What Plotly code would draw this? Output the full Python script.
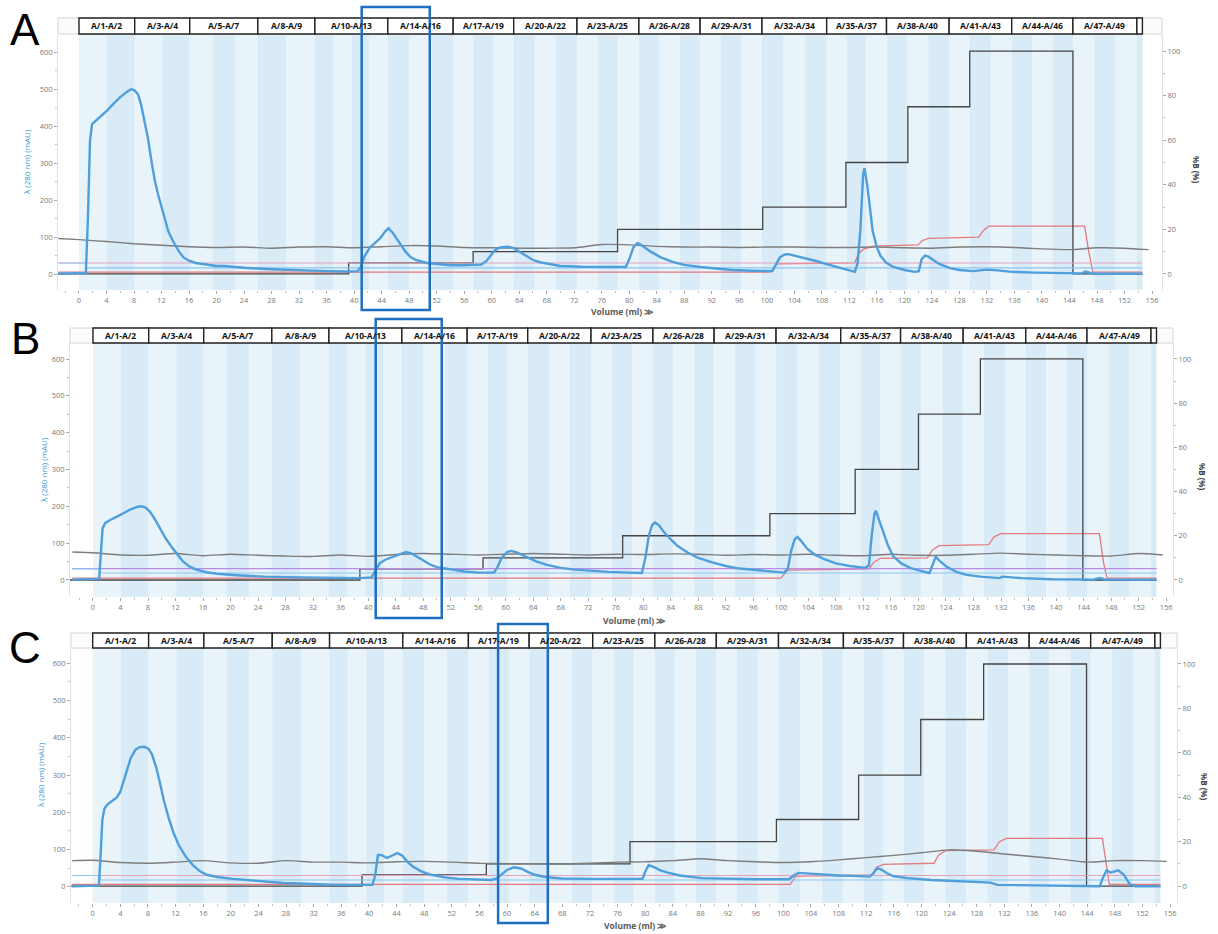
import plotly.graph_objects as go

W, H = 1218, 934

# ---------------- data ----------------
fraction_labels = ["A/1-A/2", "A/3-A/4", "A/5-A/7", "A/8-A/9", "A/10-A/13", "A/14-A/16",
                   "A/17-A/19", "A/20-A/22", "A/23-A/25", "A/26-A/28", "A/29-A/31", "A/32-A/34",
                   "A/35-A/37", "A/38-A/40", "A/41-A/43", "A/44-A/46", "A/47-A/49", ""]
fraction_edges = [0, 8.1, 16.1, 26.0, 34.3, 44.9, 54.4, 63.2, 72.4, 81.4, 90.3, 99.3,
                  108.7, 117.4, 126.5, 135.6, 144.5, 153.8, 154.6]

# UV 280 nm (mAU)
uv_A_x = [-3.0, 0.5, 1.0, 1.3, 1.6, 1.9, 2.5, 3.2, 4.0, 5.0, 6.0, 7.0, 7.6, 8.1, 8.6, 9.0, 9.5, 10.0, 10.5, 11.0,
          11.5, 12.0, 12.5, 13.0, 13.7, 14.5, 15.2, 16.0, 17.0, 18.5, 20.0, 21.0, 22.0, 24.0, 28.0, 32.0, 36.0,
          39.0, 40.5, 41.0, 41.5, 42.3, 43.0, 43.8, 44.5, 45.0, 45.6, 46.2, 46.8, 47.5, 48.2, 49.0, 50.6, 52.0,
          54.0, 56.0, 58.5, 59.2, 59.8, 60.5, 61.2, 62.3, 63.2, 64.1, 65.0, 66.0, 67.0, 68.5, 70.0, 73.0, 76.0,
          79.5, 80.0, 80.6, 81.2, 81.8, 83.0, 84.5, 86.3, 88.0, 90.3, 93.0, 95.0, 98.0, 100.8, 101.3, 101.9,
          102.6, 103.2, 104.0, 105.0, 107.0, 109.6, 111.5, 112.8, 113.2, 113.6, 114.0, 114.2, 114.6, 115.0,
          115.4, 116.0, 116.5, 117.3, 118.3, 120.0, 121.5, 122.1, 122.5, 123.0, 123.5, 124.2, 125.0, 126.6,
          128.0, 130.0, 131.0, 132.0, 133.5, 135.6, 139.0, 143.0, 144.5, 145.8, 146.3, 146.8, 147.5, 150.0, 154.6]
uv_A_y = [1, 1, 3, 150, 360, 405, 415, 425, 440, 460, 478, 493, 500, 496, 485, 460, 415, 370, 310, 255,
          215, 180, 145, 115, 88, 62, 45, 36, 30, 26, 22, 22, 20, 17, 13, 10, 8,
          7, 8, 20, 48, 72, 85, 97, 115, 124, 112, 95, 78, 60, 46, 38, 30, 27,
          24, 24, 26, 35, 50, 65, 72, 74, 70, 60, 48, 38, 32, 26, 22, 20, 19,
          19, 40, 72, 84, 78, 62, 46, 33, 25, 19, 14, 11, 9, 8, 25, 45,
          53, 54, 50, 46, 36, 22, 12, 6, 30, 120, 270, 286, 240, 170,
          115, 72, 50, 32, 20, 11, 6, 8, 40, 50, 47, 38, 28, 16,
          11, 8, 10, 12, 10, 6, 4, 3, 1, 2, 7, 5, 1, 1, 1]

uv_B_x = [-3.0, 0.5, 0.9, 1.1, 1.4, 1.8, 2.5, 3.5, 4.5, 5.5, 6.5, 7.0, 7.6, 8.3, 9.0, 9.8, 10.6, 11.5, 12.2,
          13.0, 14.0, 15.0, 16.5, 18.0, 21.0, 25.0, 30.0, 35.0, 38.8, 40.5, 41.0, 41.7, 42.5, 43.5, 44.5,
          45.5, 46.3, 47.0, 48.0, 49.0, 50.0, 52.0, 54.0, 56.0, 58.3, 58.8, 59.4, 60.2, 60.8, 61.6, 63.0,
          64.5, 66.0, 68.0, 70.0, 72.0, 75.0, 78.0, 79.8, 80.3, 80.8, 81.3, 81.7, 82.3, 83.0, 84.0, 85.0,
          86.5, 88.0, 90.0, 92.0, 94.0, 96.0, 98.0, 100.5, 101.0, 101.5, 102.0, 102.4, 103.0, 103.8, 105.0,
          106.5, 108.0, 110.0, 112.3, 112.8, 113.2, 113.6, 113.8, 114.3, 114.9, 115.6, 116.3, 117.5, 118.8,
          120.0, 121.6, 122.0, 122.5, 123.2, 124.1, 125.5, 127.0, 129.0, 131.0, 131.8, 132.2, 133.0, 135.0,
          139.4, 144.0, 145.5, 146.0, 146.5, 147.2, 154.6]
uv_B_y = [1, 1, 3, 60, 140, 155, 163, 172, 182, 192, 199, 200, 197, 185, 165, 140, 112, 88, 70,
          52, 37, 28, 21, 17, 13, 9, 7, 5, 5, 7, 25, 46, 55, 62, 70,
          76, 72, 64, 52, 42, 35, 28, 23, 20, 20, 35, 60, 76, 79, 75, 62,
          50, 41, 33, 28, 25, 22, 20, 19, 60, 120, 150, 156, 148, 130, 110, 92,
          74, 60, 48, 38, 31, 27, 23, 20, 30, 80, 110, 117, 105, 85, 68,
          55, 45, 38, 33, 40, 120, 180, 188, 160, 128, 92, 65, 45, 33,
          26, 19, 40, 63, 50, 36, 22, 14, 9, 6, 5, 9, 8, 5,
          2, 1, 1, 4, 5, 1, 1]

uv_C_x = [-3.0, 0.5, 0.9, 1.1, 1.4, 1.7, 2.2, 2.8, 3.5, 4.0, 4.5, 5.0, 5.5, 6.2, 6.8, 7.5, 8.1, 8.6, 9.2, 9.7,
          10.3, 11.0, 11.7, 12.5, 13.5, 14.5, 15.5, 16.5, 18.0, 20.3, 24.0, 27.6, 31.0, 35.0, 40.5, 40.9,
          41.3, 41.8, 42.6, 43.4, 44.1, 44.8, 45.5, 46.3, 47.5, 49.0, 51.0, 53.0, 56.0, 57.7, 58.5, 59.2,
          60.0, 61.0, 62.0, 63.0, 64.0, 65.5, 67.9, 72.0, 76.0, 79.6, 80.0, 80.5, 81.2, 82.2, 83.4, 85.0,
          88.2, 92.0, 96.0, 100.8, 101.5, 102.2, 103.5, 105.0, 108.0, 110.0, 112.5, 113.0, 113.6, 114.2,
          115.0, 116.0, 118.0, 121.4, 124.0, 128.0, 130.0, 131.0, 135.0, 140.0, 143.5, 144.0, 145.8, 146.3,
          146.8, 147.4, 148.0, 148.5, 149.3, 150.2, 151.0, 154.6]
uv_C_y = [1, 1, 3, 70, 180, 210, 222, 230, 240, 255, 285, 318, 345, 368, 375, 376, 370, 355, 320, 282,
          232, 185, 145, 110, 80, 58, 42, 32, 26, 21, 15, 10, 8, 5, 5, 30,
          85, 85, 77, 84, 90, 84, 68, 55, 42, 32, 25, 21, 18, 18, 22, 32,
          45, 52, 49, 40, 32, 26, 22, 21, 21, 21, 40, 58, 53, 44, 37, 30,
          23, 21, 20, 20, 30, 37, 35, 33, 30, 29, 27, 35, 50, 46,
          36, 28, 23, 18, 16, 13, 11, 5, 4, 3, 2, 1, 1, 25,
          44, 38, 42, 44, 32, 6, 1, 1]

# second (grey) detector trace, mAU scale
grey_x = [-3, 0, 4, 8, 12, 16, 20, 24, 28, 32, 36, 40, 44, 48, 52, 56, 60, 64, 68, 72, 76, 80,
          84, 88, 92, 96, 100, 104, 108, 112, 116, 120, 124, 128, 132, 136, 140, 144, 148, 152, 155.5]
grey_A = [96, 93, 88, 82, 78, 74, 72, 73, 70, 73, 74, 71, 74, 77, 76, 72, 71, 70, 70, 71, 80, 79,
          75, 73, 73, 72, 73, 73, 72, 72, 73, 71, 70, 73, 74, 72, 68, 66, 71, 70, 66]
grey_B = [76, 74, 68, 67, 72, 66, 70, 67, 65, 64, 68, 64, 69, 72, 70, 68, 70, 72, 70, 68, 70, 69,
          71, 70, 67, 69, 68, 70, 67, 66, 70, 67, 67, 70, 73, 70, 68, 66, 65, 72, 68]
grey_C = [70, 71, 65, 63, 66, 70, 64, 63, 70, 66, 66, 64, 67, 68, 66, 63, 62, 62, 61, 63, 66, 67,
          70, 75, 70, 67, 65, 67, 72, 78, 84, 91, 99, 95, 88, 81, 74, 66, 70, 70, 68]

# %B step gradient
step_A_x = [-3.05, 39.2, 57.3, 78.3, 99.4, 111.5, 120.5, 129.5, 144.5, 154.6]
step_B_x = [-3.34, 38.8, 56.7, 77.0, 98.4, 110.8, 120.0, 129.0, 143.9, 154.6]
step_C_x = [-3.14, 39.0, 57.0, 77.8, 99.0, 110.9, 119.9, 129.0, 143.9, 154.6]
step_y = [0, 5, 10, 20, 30, 50, 75, 100, 0, 0]

# red trace (% scale)
red_A_x = [-3.0, 100.5, 101.5, 112.8, 113.3, 114.0, 115.5, 122.0, 122.6, 123.5, 130.8, 131.5, 132.3, 146.2, 146.8, 147.4, 154.6]
red_A_y = [0.8, 0.8, 4.5, 5.0, 9.0, 11.0, 12.5, 13.0, 15.0, 16.0, 16.5, 19.5, 21.5, 21.5, 10.0, 0.8, 0.8]
red_B_x = [-3.0, 100.0, 101.0, 112.8, 113.5, 114.5, 121.3, 122.0, 123.0, 130.2, 131.0, 132.0, 146.3, 146.9, 147.4, 154.6]
red_B_y = [0.8, 0.8, 4.5, 5.0, 8.0, 9.8, 10.0, 13.5, 15.5, 16.0, 19.5, 21.0, 21.0, 8.0, 0.8, 0.8]
red_C_x = [-3.0, 101.0, 101.8, 112.8, 113.5, 114.5, 121.8, 122.5, 123.5, 130.5, 131.3, 132.3, 146.2, 146.8, 147.2, 154.6]
red_C_y = [0.8, 0.8, 4.5, 5.0, 8.5, 9.8, 10.3, 14.0, 16.0, 16.3, 20.0, 21.5, 21.5, 10.0, 0.8, 0.8]

# flat auxiliary traces (mAU scale)
flat_x = [-3.0, 1.0, 154.6]
pink_A = [30, 30, 30]
pink_B = [31, 31, 31]
pink_C = [30, 30, 30]
lblue_A = [30, 17, 17]
lblue_B = [30, 19, 19]
lblue_C = [30, 18, 18]

# highlighted volume windows (ml)
highlight_A = [41.1, 51.0]
highlight_B = [41.1, 50.7]
highlight_C = [58.7, 65.9]

# ---------------- layout helpers ----------------
def PX(p):
    return p / W


def PY(p):
    return 1 - p / H


panels = [
    dict(letter="A", uv=(uv_A_x, uv_A_y), grey=grey_A, step_x=step_A_x, red=(red_A_x, red_A_y),
         pink=pink_A, lblue=lblue_A, pink_col="#e3a3bd", hl=highlight_A,
         xdom=(58, 1162), ydom=(35, 290), xr=(-3.05, 157.45), uvr=(-43, 646), pr=(-7.2, 107.2),
         hdr=(18, 34), vol=(622, 311), let=(25, 29), hly=(7, 310), ltitle=(27, 162), rtitle=(1197, 170)),
    dict(letter="B", uv=(uv_B_x, uv_B_y), grey=grey_B, step_x=step_B_x, red=(red_B_x, red_B_y),
         pink=pink_B, lblue=lblue_B, pink_col="#b98be6", hl=highlight_B,
         xdom=(70, 1173), ydom=(343, 597), xr=(-3.34, 157.0), uvr=(-46.2, 643.5), pr=(-7.7, 107.2),
         hdr=(328, 343), vol=(634, 620), let=(25, 338), hly=(319, 618), ltitle=(43, 470), rtitle=(1203, 477)),
    dict(letter="C", uv=(uv_C_x, uv_C_y), grey=grey_C, step_x=step_C_x, red=(red_C_x, red_C_y),
         pink=pink_C, lblue=lblue_C, pink_col="#e3a3bd", hl=highlight_C,
         xdom=(71, 1177), ydom=(648, 903), xr=(-3.14, 157.0), uvr=(-43.8, 641.1), pr=(-7.6, 107.2),
         hdr=(633, 648), vol=(635, 925), let=(25, 647), hly=(624, 923), ltitle=(40, 775), rtitle=(1205, 787)),
]

for name, xs, ys in [("A", uv_A_x, uv_A_y), ("B", uv_B_x, uv_B_y), ("C", uv_C_x, uv_C_y)]:
    if len(xs) != len(ys):
        raise ValueError(f"uv {name} length mismatch {len(xs)} {len(ys)}")


def frac_count(lbl):
    if not lbl:
        return 1
    a, b = lbl.split("-")
    return int(b.split("/")[1]) - int(a.split("/")[1]) + 1


fig = go.Figure()
shapes = []
annotations = []
layout_axes = {}

tickfont = dict(size=7.5, color="#7a7a7a", family="Open Sans")

for i, p in enumerate(panels):
    k = i + 1
    xname = "x" if k == 1 else f"x{k}"
    yp_idx = 2 * i + 1
    yu_idx = 2 * i + 2
    yp = "y" if yp_idx == 1 else f"y{yp_idx}"
    yu = f"y{yu_idx}"
    xkey = "xaxis" if k == 1 else f"xaxis{k}"
    ypkey = "yaxis" if yp_idx == 1 else f"yaxis{yp_idx}"
    yukey = f"yaxis{yu_idx}"

    # traces on % axis (drawn first -> underneath)
    fig.add_trace(go.Scatter(x=p["red"][0], y=p["red"][1], xaxis=xname, yaxis=yp, mode="lines",
                             line=dict(color="#e47a7e", width=1.3), showlegend=False, hoverinfo="skip"))
    fig.add_trace(go.Scatter(x=p["step_x"], y=step_y, xaxis=xname, yaxis=yp, mode="lines",
                             line=dict(color="#454545", width=1.3, shape="hv"), showlegend=False, hoverinfo="skip"))
    # traces on mAU axis
    fig.add_trace(go.Scatter(x=flat_x, y=p["pink"], xaxis=xname, yaxis=yu, mode="lines",
                             line=dict(color=p["pink_col"], width=1.2), showlegend=False, hoverinfo="skip"))
    fig.add_trace(go.Scatter(x=flat_x, y=p["lblue"], xaxis=xname, yaxis=yu, mode="lines",
                             line=dict(color="#8cc8ef", width=1.2, shape="hv"), showlegend=False, hoverinfo="skip"))
    fig.add_trace(go.Scatter(x=grey_x, y=p["grey"], xaxis=xname, yaxis=yu, mode="lines",
                             line=dict(color="#7d7d7d", width=1.4, shape="spline", smoothing=0.6),
                             showlegend=False, hoverinfo="skip"))
    fig.add_trace(go.Scatter(x=p["uv"][0], y=p["uv"][1], xaxis=xname, yaxis=yu, mode="lines",
                             line=dict(color="#4f9fdd", width=2.4), showlegend=False, hoverinfo="skip"))

    xd = [PX(p["xdom"][0]), PX(p["xdom"][1])]
    yd = [PY(p["ydom"][1]), PY(p["ydom"][0])]

    layout_axes[xkey] = dict(domain=xd, range=list(p["xr"]), anchor=yp, showgrid=False, zeroline=False,
                             showline=False, ticks="outside", ticklen=3, tickcolor="#aaaaaa",
                             tick0=0, dtick=4, tickfont=tickfont,
                             minor=dict(dtick=2, tick0=0, ticks="outside", ticklen=2, tickcolor="#c0c0c0"))
    layout_axes[ypkey] = dict(domain=yd, range=list(p["pr"]), anchor=xname, side="right", showgrid=False,
                              zeroline=False, showline=True, linecolor="#e2e2e2", ticks="outside", ticklen=3,
                              tickcolor="#aaaaaa", tick0=0, dtick=20, tickfont=tickfont,
                              minor=dict(dtick=10, tick0=0, ticks="outside", ticklen=2, tickcolor="#c0c0c0"))
    layout_axes[yukey] = dict(range=list(p["uvr"]), anchor=xname, overlaying=yp, side="left", showgrid=False,
                              zeroline=False, showline=True, linecolor="#e2e2e2", ticks="outside", ticklen=3,
                              tickcolor="#aaaaaa", tick0=0, dtick=100, tickfont=tickfont,
                              minor=dict(dtick=50, tick0=0, ticks="outside", ticklen=2, tickcolor="#c0c0c0"))

    # fraction stripes
    fi = 0
    for g, lbl in enumerate(fraction_labels):
        n = frac_count(lbl)
        x0, x1 = fraction_edges[g], fraction_edges[g + 1]
        wdt = (x1 - x0) / n
        for j in range(n):
            col = "#e8f3fa" if fi % 2 == 0 else "#d9ebf6"
            shapes.append(dict(type="rect", xref=xname, yref="paper", x0=x0 + j * wdt, x1=x0 + (j + 1) * wdt,
                               y0=yd[0], y1=yd[1], fillcolor=col, line=dict(width=0), layer="below"))
            fi += 1

    # header band
    hy0, hy1 = PY(p["hdr"][1]), PY(p["hdr"][0])
    shapes.append(dict(type="rect", xref="paper", yref="paper", x0=xd[0], x1=xd[1], y0=hy0, y1=hy1,
                       fillcolor="#fbfbfb", line=dict(color="#d4d4d4", width=1), layer="above"))
    for g, lbl in enumerate(fraction_labels):
        x0, x1 = fraction_edges[g], fraction_edges[g + 1]
        shapes.append(dict(type="rect", xref=xname, yref="paper", x0=x0, x1=x1, y0=hy0, y1=hy1,
                           fillcolor="white", line=dict(color="#222222", width=1.4), layer="above"))
        if lbl:
            annotations.append(dict(x=(x0 + x1) / 2, y=(hy0 + hy1) / 2, xref=xname, yref="paper",
                                    text=f"<b>{lbl}</b>", showarrow=False, xanchor="center", yanchor="middle",
                                    font=dict(size=8.5, color="#111111", family="Open Sans")))

    # highlight rectangle
    shapes.append(dict(type="rect", xref=xname, yref="paper", x0=p["hl"][0], x1=p["hl"][1],
                       y0=PY(p["hly"][1]), y1=PY(p["hly"][0]), fillcolor="rgba(0,0,0,0)",
                       line=dict(color="#1f6fc1", width=2.5), layer="above"))

    # texts
    annotations.append(dict(x=PX(p["let"][0]), y=PY(p["let"][1]), xref="paper", yref="paper",
                            text=p["letter"], showarrow=False, xanchor="center", yanchor="middle",
                            font=dict(size=44, color="black", family="Liberation Sans")))
    annotations.append(dict(x=PX(p["vol"][0]), y=PY(p["vol"][1]), xref="paper", yref="paper",
                            text="<b>Volume (ml) ≫</b>", showarrow=False, xanchor="center", yanchor="middle",
                            font=dict(size=8.5, color="#5a5a5a", family="Open Sans")))
    annotations.append(dict(x=PX(p["ltitle"][0]), y=PY(p["ltitle"][1]), xref="paper", yref="paper",
                            text="λ (280 nm) (mAU)", showarrow=False, textangle=-90, xanchor="center",
                            yanchor="middle", font=dict(size=8, color="#3a96d8", family="Open Sans")))
    annotations.append(dict(x=PX(p["rtitle"][0]), y=PY(p["rtitle"][1]), xref="paper", yref="paper",
                            text="<b>%B (%)</b>", showarrow=False, textangle=90, xanchor="center",
                            yanchor="middle", font=dict(size=8, color="#444444", family="Open Sans")))

fig.update_layout(
    width=W, height=H, margin=dict(l=0, r=0, t=0, b=0),
    paper_bgcolor="white", plot_bgcolor="white",
    font=dict(family="Open Sans"),
    shapes=shapes, annotations=annotations, showlegend=False,
    **layout_axes,
)

fig.write_html("out.html", config={"displayModeBar": False},
               post_script="document.body.style.margin='0px';document.body.style.padding='0px';")
